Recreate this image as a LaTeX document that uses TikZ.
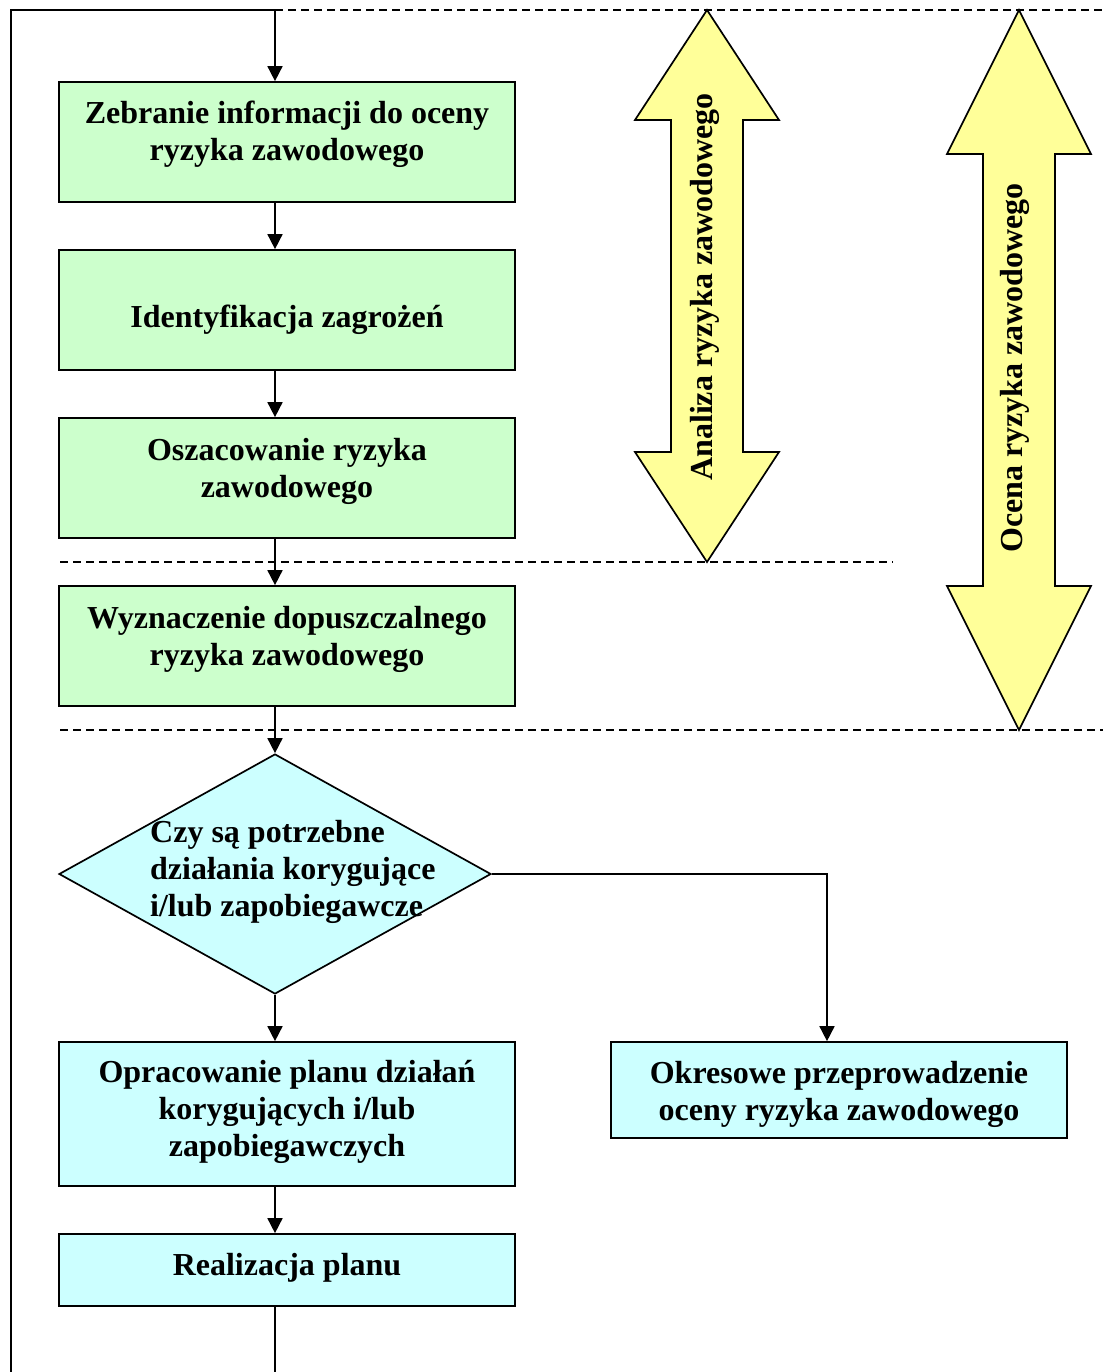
\documentclass[tikz,border=0pt]{standalone}
\usepackage{fontspec}
\setmainfont{Liberation Serif}
\usetikzlibrary{shapes.geometric,arrows.meta}
\definecolor{gfill}{HTML}{CCFFCC}
\definecolor{cfill}{HTML}{CCFFFF}
\definecolor{yfill}{HTML}{FFFF99}
\begin{document}
\begin{tikzpicture}[x=1pt,y=-1pt,
  gbox/.style={draw=black, line width=1.7pt, fill=gfill, minimum width=456pt, inner sep=0pt},
  cbox/.style={draw=black, line width=1.7pt, fill=cfill, minimum width=456pt, inner sep=0pt},
  dia/.style={draw=black, line width=1.7pt, fill=cfill, shape=diamond, minimum width=432pt, minimum height=240pt, inner sep=0pt},
  txt/.style={font=\fontsize{32}{37}\selectfont\bfseries, align=center, inner sep=0pt},
  conn/.style={line width=1.7pt},
  arr/.style={line width=1.7pt, -{Triangle[width=15pt,length=15pt]}},
  dsh/.style={line width=1.4pt, dash pattern=on 8pt off 5pt},
  bigarrow/.style={draw=black, line width=1.7pt, fill=yfill, line join=miter}]
\useasboundingbox (0,0) rectangle (1103,1372);

% boxes
\node[gbox, minimum height=120pt] (b1) at (287,142) {};
\node[txt] (t1) at (287,134) {Zebranie informacji do oceny\\ryzyka zawodowego};
\node[gbox, minimum height=120pt] (b2) at (287,310) {};
\node[txt] (t2) at (287,320) {Identyfikacja zagrożeń};
\node[gbox, minimum height=120pt] (b3) at (287,478) {};
\node[txt] (t3) at (287,471) {Oszacowanie ryzyka\\zawodowego};
\node[gbox, minimum height=120pt] (b4) at (287,646) {};
\node[txt] (t4) at (287,639) {Wyznaczenie dopuszczalnego\\ryzyka zawodowego};
\node[dia] (d) at (275,874) {};
\node[txt, align=left, anchor=west] (td) at (150,872) {Czy są potrzebne\\działania korygujące\\i/lub zapobiegawcze};
\node[cbox, minimum height=144pt] (b5) at (287,1114) {};
\node[txt] (t5) at (287,1112) {Opracowanie planu działań\\korygujących i/lub\\zapobiegawczych};
\node[cbox, minimum height=72pt] (b6) at (287,1270) {};
\node[txt] (t6) at (287,1268) {Realizacja planu};
\node[cbox, minimum height=96pt] (b7) at (839,1090) {};
\node[txt] (t7) at (839,1094) {Okresowe przeprowadzenie\\oceny ryzyka zawodowego};

% loop coordinates
\coordinate (top) at (275,10);
\coordinate (lt) at (11,10);
\coordinate (lb) at (11,1372);
\coordinate (bb) at (275,1372);
\coordinate (rt) at (1103,10);

% dashed lines
\draw[dsh] (top) -- (rt);
\draw[dsh] (60,562) -- (893,562);
\draw[dsh] (60,730) -- (1103,730);

% connectors
\draw[conn] (lb) -- (lt) -- (top);
\draw[arr] (top) -- (b1.north -| top);
\draw[arr] (b1.south -| top) -- (b2.north -| top);
\draw[arr] (b2.south -| top) -- (b3.north -| top);
\draw[arr] (b3.south -| top) -- (b4.north -| top);
\draw[arr] (b4.south -| top) -- (d.north);
\draw[arr] (d.south) -- (b5.north -| top);
\draw[arr] (b5.south -| top) -- (b6.north -| top);
\draw[conn] (b6.south -| top) -- (bb);
\draw[arr] (d.east) -| ([xshift=-12pt]b7.north);

% big double arrows
\draw[bigarrow] (707,10) -- (779,120) -- (743,120) -- (743,452) -- (779,452) -- (707,562)
  -- (635,452) -- (671,452) -- (671,120) -- (635,120) -- cycle;
\node[txt, rotate=90] (ta) at (705,287) {Analiza ryzyka zawodowego};
\draw[bigarrow] (1019,10) -- (1091,154) -- (1055,154) -- (1055,586) -- (1091,586) -- (1019,730)
  -- (947,586) -- (983,586) -- (983,154) -- (947,154) -- cycle;
\node[txt, rotate=90] (tb) at (1015,368) {Ocena ryzyka zawodowego};
\end{tikzpicture}
\end{document}
